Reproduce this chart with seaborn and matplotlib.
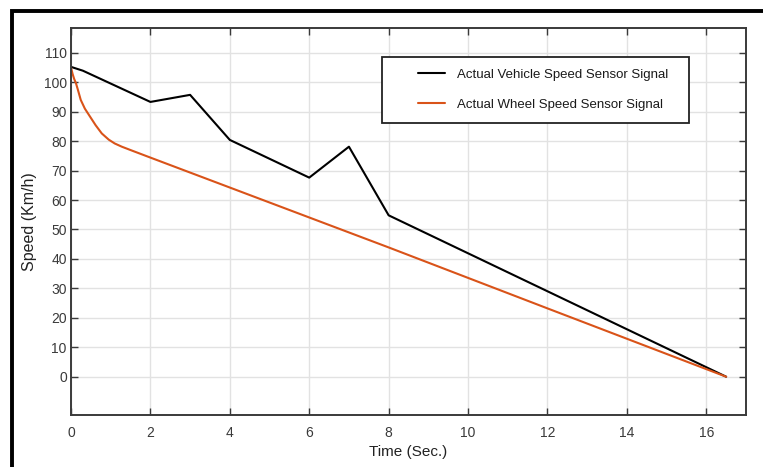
import matplotlib
matplotlib.use("Agg")
import matplotlib.pyplot as plt
import seaborn as sns
import pandas as pd
from matplotlib.lines import Line2D
from matplotlib.patches import Rectangle
from matplotlib.legend_handler import HandlerLine2D

# ---- data ----
vehicle_time = [0, 0.3, 2, 3, 4, 6, 7, 8, 16.5]
vehicle_speed = [105.2, 103.9, 93.3, 95.7, 80.4, 67.6, 78.1, 54.8, 0]
wheel_time = [0, 0.04, 0.08, 0.126, 0.17, 0.245, 0.35, 0.48, 0.62, 0.775, 0.95,
              1.1, 1.28, 1.55, 2, 8, 12, 16.5]
wheel_speed = [105, 102.8, 101.1, 99.6, 97.6, 94.0, 91.0, 88.3, 85.4, 82.6, 80.5,
               79.2, 78.1, 76.7, 74.4, 43.9, 23.2, 0]
series_names = ["Actual Vehicle Speed Sensor Signal", "Actual Wheel Speed Sensor Signal"]
series_colors = ["#000000", "#D95319"]
x_ticks = list(range(0, 17, 2))
y_ticks = list(range(0, 111, 10))

df = pd.concat([
    pd.DataFrame({"t": vehicle_time, "v": vehicle_speed, "s": series_names[0]}),
    pd.DataFrame({"t": wheel_time, "v": wheel_speed, "s": series_names[1]}),
])

sns.set_theme(style="white")
plt.rcParams["font.family"] = ["Liberation Sans", "DejaVu Sans"]

fig = plt.figure(figsize=(7.63, 4.67), dpi=100)
ax = fig.add_axes([71 / 763, 1 - 415 / 467, 675 / 763, 386.7 / 467])

sns.lineplot(data=df, x="t", y="v", hue="s", palette=series_colors,
             estimator=None, sort=False, linewidth=1.5, ax=ax, legend=False)

ax.set_xlim(0, 17)
ax.set_ylim(-13, 118.3)
ax.set_xticks(x_ticks)
ax.set_yticks(y_ticks)
ax.grid(True, color="#e2e2e2", linewidth=1.0)
ax.set_axisbelow(True)

spine_c = "#3a3a3a"
for sp in ax.spines.values():
    sp.set_visible(True)
    sp.set_color(spine_c)
    sp.set_linewidth(1.4)

ax.tick_params(axis="both", which="both", direction="in", length=5, width=1.0,
               color=spine_c, labelcolor="#3a3a3a", labelsize=10,
               top=True, right=True, bottom=True, left=True)
ax.tick_params(axis="x", pad=8)
ax.tick_params(axis="y", pad=3)

ax.set_xlabel("Time (Sec.)", fontsize=11, color="#222222")
ax.set_ylabel("Speed (Km/h)", fontsize=11.5, color="#222222")
ax.xaxis.set_label_coords(0.5, -0.078)
ax.yaxis.set_label_coords(-0.05, 0.5)

# legend
fs = 9.5
handles = [Line2D([], [], color=c, linewidth=1.5) for c in series_colors]
leg = ax.legend(handles, series_names, loc="upper left",
                bbox_to_anchor=(0.4603, 0, 0.4553, 0.9266), mode="expand",
                borderaxespad=0, fontsize=fs, frameon=True, fancybox=False,
                framealpha=1, edgecolor="#222222", borderpad=0.92,
                labelspacing=1.31, handlelength=3.85, handletextpad=0.95,
                handler_map={Line2D: HandlerLine2D(xpad=1.8)})
leg.get_frame().set_linewidth(1.3)
for t in leg.get_texts():
    t.set_color("#1a1a1a")

# figure border (thick black, cut off at right/bottom)
fig.add_artist(Rectangle((12 / 763, -0.2), 1.5, 1 - 10.5 / 467 + 0.2,
                         transform=fig.transFigure, fill=False,
                         edgecolor="black", linewidth=2.8, clip_on=False))

fig.savefig("out.png", dpi=100)
